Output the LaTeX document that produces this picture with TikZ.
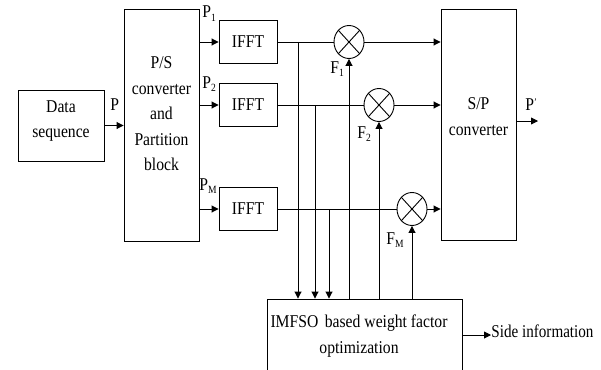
\documentclass[tikz,border=0pt]{standalone}
\usepackage{fontspec}
\setmainfont{Liberation Serif}
\usetikzlibrary{arrows.meta,shapes.geometric,calc}
\newcommand{\mysub}[1]{\raisebox{-0.4ex}{\fontsize{11}{11}\selectfont #1}}
\newcommand{\nar}[1]{\scalebox{0.87}[1]{#1}}
\begin{document}
\begin{tikzpicture}[x=1pt,y=-1pt, line width=0.9pt,
  box/.style={draw, inner sep=0pt, align=center},
  txt/.style={inner sep=0pt, align=center},
  lbl/.style={inner sep=0pt, anchor=base west},
  arr/.style={-{Triangle[length=7pt,width=7pt]}},
  mult/.style={draw, ellipse, minimum width=30pt, minimum height=33pt, inner sep=0pt},
  font=\fontsize{18}{25.5}\selectfont]
\useasboundingbox (0,0) rectangle (601,369);
\clip (0,0) rectangle (601,369);

% blocks
\node[box, minimum width=86pt, minimum height=71pt] (data) at (61,125.5) {};
\node[txt] (datatext) at (61,121) {\nar{Data}\\\nar{sequence}};
\node[box, minimum width=75pt, minimum height=232pt] (ps) at (161.5,125) {};
\node[txt] (pstext) at (161.5,114) {\nar{P/S}\\\nar{converter}\\\nar{and}\\\nar{Partition}\\\nar{block}};
\node[box, minimum width=58pt, minimum height=43pt] (ifft1) at (248,42) {\nar{IFFT}};
\node[box, minimum width=58pt, minimum height=43pt] (ifft2) at (248,105) {\nar{IFFT}};
\node[box, minimum width=58pt, minimum height=43pt] (ifft3) at (248,209) {\nar{IFFT}};
\node[mult] (m1) at (349,42) {};
\node[mult] (m2) at (379,105) {};
\node[mult] (m3) at (412,209) {};
\foreach \m in {m1,m2,m3}{
  \draw (\m.north west) -- (\m.south east) (\m.north east) -- (\m.south west);
}
\node[box, minimum width=75pt, minimum height=231pt] (sp) at (478.5,124.5) {};
\node[txt] (sptext) at (478.5,116.5) {\nar{S/P}\\\nar{converter}};
\node[box, minimum width=195pt, minimum height=81pt] (opt) at (364.5,339.5) {};
\node[txt] (opttext) at (359,336) {\nar{IMFSO\, based weight factor}\\\nar{optimization}};

% labels
\node[lbl] (lp) at (110,110) {\nar{P}};
\node[lbl] (lp1) at (202,18) {\nar{P\mysub{1}}};
\node[lbl] (lp2) at (202,88) {\nar{P\mysub{2}}};
\node[lbl] (lpm) at (199,190) {\nar{P\mysub{M}}};
\node[lbl] (lf1) at (330,73) {\nar{F\mysub{1}}};
\node[lbl] (lf2) at (357,138) {\nar{F\mysub{2}}};
\node[lbl] (lfm) at (386,244) {\nar{F\mysub{M}}};
\node[lbl] (lpo) at (525,110) {\nar{P\raisebox{0.55ex}{\fontsize{10}{10}\selectfont '}}};
\node[lbl] (side) at (491,337) {\scalebox{0.84}[1]{Side information}};

% connectors
\draw[arr] (data.east) -- (ps.west |- data.east);
\draw[arr] (ps.east |- ifft1.west) -- (ifft1.west);
\draw[arr] (ps.east |- ifft2.west) -- (ifft2.west);
\draw[arr] (ps.east |- ifft3.west) -- (ifft3.west);
\draw (ifft1.east) -- (m1.west);
\draw (ifft2.east) -- (m2.west);
\draw (ifft3.east) -- (m3.west);
\draw[arr] (m1.east) -- (sp.west |- m1.east);
\draw[arr] (m2.east) -- (sp.west |- m2.east);
\draw[arr] (m3.east) -- (sp.west |- m3.east);

\coordinate (t1) at (298,42);
\coordinate (t2) at (315,105);
\coordinate (t3) at (329,209);
\draw[arr] (t1) -- (t1 |- opt.north);
\draw[arr] (t2) -- (t2 |- opt.north);
\draw[arr] (t3) -- (t3 |- opt.north);

\draw[arr] (m1.south |- opt.north) -- (m1.south);
\draw[arr] (m2.south |- opt.north) -- (m2.south);
\draw[arr] (m3.south |- opt.north) -- (m3.south);

\coordinate (pout) at (538,121);
\draw[arr] (sp.east |- pout) -- (pout);
\coordinate (sidein) at (491,335);
\draw[arr] (opt.east |- sidein) -- (sidein);
\end{tikzpicture}
\end{document}
